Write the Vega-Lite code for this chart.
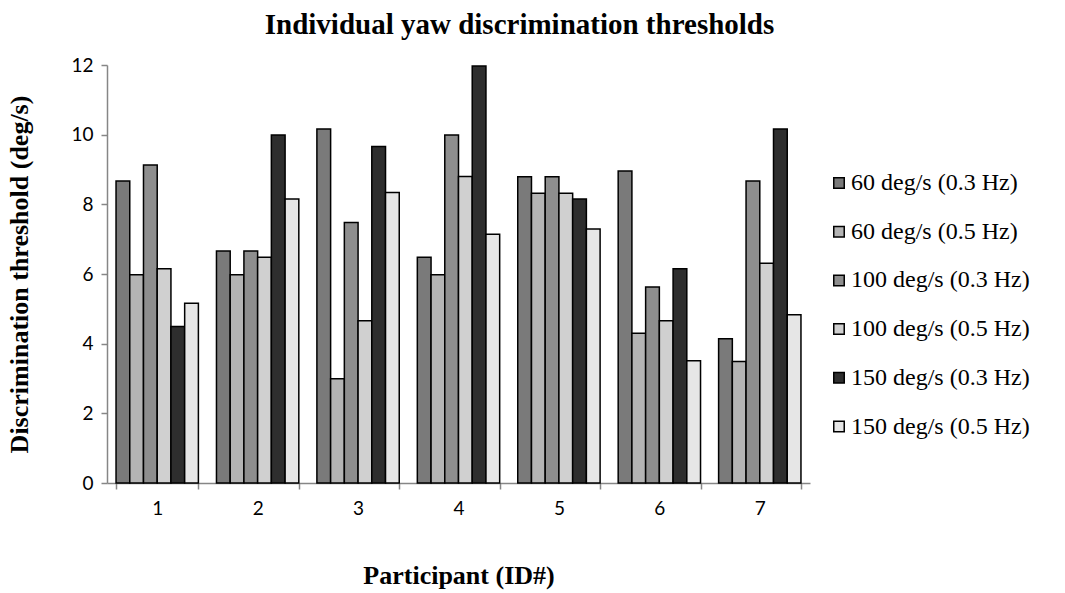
{
  "$schema": "https://vega.github.io/schema/vega-lite/v6.json",
  "autosize": "none",
  "width": 703,
  "height": 418,
  "padding": {"left": 107, "top": 65, "right": 255, "bottom": 110},
  "background": "white",
  "title": {
    "text": "Individual yaw discrimination thresholds",
    "font": "Liberation Serif",
    "fontSize": 29,
    "fontWeight": "bold",
    "color": "black",
    "anchor": "middle",
    "dx": 61,
    "offset": 16
  },
  "data": {
    "values": [
      {"participant": "1", "condition": "60 deg/s (0.3 Hz)", "threshold": 8.67},
      {"participant": "1", "condition": "60 deg/s (0.5 Hz)", "threshold": 5.98},
      {"participant": "1", "condition": "100 deg/s (0.3 Hz)", "threshold": 9.13},
      {"participant": "1", "condition": "100 deg/s (0.5 Hz)", "threshold": 6.15},
      {"participant": "1", "condition": "150 deg/s (0.3 Hz)", "threshold": 4.49},
      {"participant": "1", "condition": "150 deg/s (0.5 Hz)", "threshold": 5.16},
      {"participant": "2", "condition": "60 deg/s (0.3 Hz)", "threshold": 6.66},
      {"participant": "2", "condition": "60 deg/s (0.5 Hz)", "threshold": 5.98},
      {"participant": "2", "condition": "100 deg/s (0.3 Hz)", "threshold": 6.66},
      {"participant": "2", "condition": "100 deg/s (0.5 Hz)", "threshold": 6.48},
      {"participant": "2", "condition": "150 deg/s (0.3 Hz)", "threshold": 9.99},
      {"participant": "2", "condition": "150 deg/s (0.5 Hz)", "threshold": 8.15},
      {"participant": "3", "condition": "60 deg/s (0.3 Hz)", "threshold": 10.16},
      {"participant": "3", "condition": "60 deg/s (0.5 Hz)", "threshold": 2.99},
      {"participant": "3", "condition": "100 deg/s (0.3 Hz)", "threshold": 7.48},
      {"participant": "3", "condition": "100 deg/s (0.5 Hz)", "threshold": 4.66},
      {"participant": "3", "condition": "150 deg/s (0.3 Hz)", "threshold": 9.66},
      {"participant": "3", "condition": "150 deg/s (0.5 Hz)", "threshold": 8.34},
      {"participant": "4", "condition": "60 deg/s (0.3 Hz)", "threshold": 6.48},
      {"participant": "4", "condition": "60 deg/s (0.5 Hz)", "threshold": 5.98},
      {"participant": "4", "condition": "100 deg/s (0.3 Hz)", "threshold": 9.99},
      {"participant": "4", "condition": "100 deg/s (0.5 Hz)", "threshold": 8.8},
      {"participant": "4", "condition": "150 deg/s (0.3 Hz)", "threshold": 11.97},
      {"participant": "4", "condition": "150 deg/s (0.5 Hz)", "threshold": 7.14},
      {"participant": "5", "condition": "60 deg/s (0.3 Hz)", "threshold": 8.79},
      {"participant": "5", "condition": "60 deg/s (0.5 Hz)", "threshold": 8.32},
      {"participant": "5", "condition": "100 deg/s (0.3 Hz)", "threshold": 8.79},
      {"participant": "5", "condition": "100 deg/s (0.5 Hz)", "threshold": 8.32},
      {"participant": "5", "condition": "150 deg/s (0.3 Hz)", "threshold": 8.15},
      {"participant": "5", "condition": "150 deg/s (0.5 Hz)", "threshold": 7.29},
      {"participant": "6", "condition": "60 deg/s (0.3 Hz)", "threshold": 8.96},
      {"participant": "6", "condition": "60 deg/s (0.5 Hz)", "threshold": 4.3},
      {"participant": "6", "condition": "100 deg/s (0.3 Hz)", "threshold": 5.63},
      {"participant": "6", "condition": "100 deg/s (0.5 Hz)", "threshold": 4.66},
      {"participant": "6", "condition": "150 deg/s (0.3 Hz)", "threshold": 6.15},
      {"participant": "6", "condition": "150 deg/s (0.5 Hz)", "threshold": 3.51},
      {"participant": "7", "condition": "60 deg/s (0.3 Hz)", "threshold": 4.14},
      {"participant": "7", "condition": "60 deg/s (0.5 Hz)", "threshold": 3.49},
      {"participant": "7", "condition": "100 deg/s (0.3 Hz)", "threshold": 8.67},
      {"participant": "7", "condition": "100 deg/s (0.5 Hz)", "threshold": 6.31},
      {"participant": "7", "condition": "150 deg/s (0.3 Hz)", "threshold": 10.16},
      {"participant": "7", "condition": "150 deg/s (0.5 Hz)", "threshold": 4.83}
    ]
  },
  "mark": {"type": "bar", "stroke": "black", "strokeWidth": 1.5},
  "encoding": {
    "x": {
      "field": "participant",
      "type": "nominal",
      "scale": {"paddingInner": 0.18, "paddingOuter": 0.09},
      "axis": {
        "title": "Participant (ID#)",
        "titleFont": "Liberation Serif",
        "titleFontSize": 26,
        "titleFontWeight": "bold",
        "titleColor": "black",
        "titlePadding": 44,
        "labelAngle": 0,
        "labelFont": "Lato",
        "labelFontSize": 19,
        "labelColor": "black",
        "labelPadding": 10,
        "tickBand": "extent",
        "tickSize": 6,
        "tickColor": "#868686",
        "domainColor": "#868686",
        "domainWidth": 1.5,
        "tickWidth": 1.5,
        "grid": false
      }
    },
    "xOffset": {
      "field": "condition",
      "type": "nominal",
      "sort": ["60 deg/s (0.3 Hz)", "60 deg/s (0.5 Hz)", "100 deg/s (0.3 Hz)", "100 deg/s (0.5 Hz)", "150 deg/s (0.3 Hz)", "150 deg/s (0.5 Hz)"],
      "scale": {"paddingInner": 0, "paddingOuter": 0}
    },
    "y": {
      "field": "threshold",
      "type": "quantitative",
      "scale": {"domain": [0, 12], "nice": false},
      "axis": {
        "values": [0, 2, 4, 6, 8, 10, 12],
        "title": "Discrimination threshold (deg/s)",
        "titleFont": "Liberation Serif",
        "titleFontSize": 26,
        "titleFontWeight": "bold",
        "titleColor": "black",
        "titlePadding": 38,
        "labelFont": "Lato",
        "labelFontSize": 19,
        "labelColor": "black",
        "labelPadding": 8,
        "tickSize": 6,
        "tickColor": "#868686",
        "domainColor": "#868686",
        "domainWidth": 1.5,
        "tickWidth": 1.5,
        "grid": false
      }
    },
    "fill": {
      "field": "condition",
      "type": "nominal",
      "sort": ["60 deg/s (0.3 Hz)", "60 deg/s (0.5 Hz)", "100 deg/s (0.3 Hz)", "100 deg/s (0.5 Hz)", "150 deg/s (0.3 Hz)", "150 deg/s (0.5 Hz)"],
      "scale": {"range": ["#7a7a7a", "#b4b4b4", "#8e8e8e", "#d0d0d0", "#2e2e2e", "#e6e6e6"]},
      "legend": {
        "title": null,
        "orient": "none",
        "legendX": 720,
        "legendY": 106,
        "symbolType": "square",
        "symbolSize": 110,
        "symbolStrokeColor": "black",
        "symbolStrokeWidth": 1.5,
        "labelFont": "Liberation Serif",
        "labelFontSize": 24,
        "labelColor": "black",
        "labelOffset": 0,
        "rowPadding": 24.7,
        "labelLimit": 300
      }
    }
  },
  "config": {"view": {"stroke": null}}
}
